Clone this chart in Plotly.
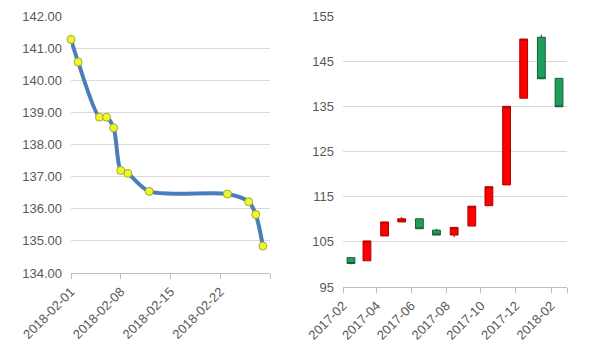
import plotly.graph_objects as go

# Left chart: daily series
line_dates = ["2018-02-01", "2018-02-02", "2018-02-05", "2018-02-06", "2018-02-07",
              "2018-02-08", "2018-02-09", "2018-02-12", "2018-02-23", "2018-02-26",
              "2018-02-27", "2018-02-28"]
line_values = [141.27, 140.57, 138.85, 138.85, 138.52, 137.19, 137.10, 136.54,
               136.46, 136.22, 135.82, 134.84]

# Right chart: monthly candles
candle_dates = ["2017-02-15", "2017-03-15", "2017-04-15", "2017-05-15", "2017-06-15",
                "2017-07-15", "2017-08-15", "2017-09-15", "2017-10-15", "2017-11-15",
                "2017-12-15", "2018-01-15", "2018-02-15"]
c_open = [101.5, 100.8, 106.3, 109.4, 110.1, 107.6, 106.5, 108.5, 113.0, 117.6, 136.8, 150.3, 141.2]
c_close = [100.2, 105.2, 109.4, 110.1, 107.9, 106.5, 108.2, 112.9, 117.2, 135.0, 149.9, 141.1, 134.9]
c_high = [101.5, 105.2, 109.4, 110.5, 110.1, 107.9, 108.2, 112.9, 117.2, 135.0, 149.9, 150.9, 141.2]
c_low = [100.0, 100.8, 106.3, 109.4, 107.9, 106.5, 106.0, 108.5, 113.0, 117.6, 136.8, 141.1, 134.9]

left_ticks = ["2018-02-01", "2018-02-08", "2018-02-15", "2018-02-22", "2018-03-01"]
left_ticktext = ["2018-02-01", "2018-02-08", "2018-02-15", "2018-02-22", ""]
right_ticks = ["2017-02-01", "2017-04-01", "2017-06-01", "2017-08-01", "2017-10-01",
               "2017-12-01", "2018-02-01", "2018-03-01"]
right_ticktext = ["2017-02", "2017-04", "2017-06", "2017-08", "2017-10", "2017-12", "2018-02", ""]

font_color = "#595959"
grid_color = "#D9D9D9"
axis_color = "#BFBFBF"

fig = go.Figure()
fig.add_trace(go.Scatter(
    x=line_dates, y=line_values, mode="lines+markers", cliponaxis=False,
    line=dict(color="#4A7EBB", width=4, shape="spline", smoothing=0.8),
    marker=dict(size=8, color="#EEF533", line=dict(color="#A9A923", width=1)),
    xaxis="x", yaxis="y", showlegend=False, hoverinfo="x+y"))

fig.add_trace(go.Candlestick(
    x=candle_dates, open=c_open, high=c_high, low=c_low, close=c_close,
    increasing=dict(fillcolor="#FF0000", line=dict(color="#B00000", width=1)),
    decreasing=dict(fillcolor="#1E9E5A", line=dict(color="#14603A", width=1)),
    whiskerwidth=0, xaxis="x2", yaxis="y2", showlegend=False))

tickfont = dict(family="Liberation Sans, Arial, sans-serif", size=13, color=font_color)

fig.update_layout(
    width=600, height=353, margin=dict(l=0, r=0, t=0, b=0),
    paper_bgcolor="white", plot_bgcolor="white",
    xaxis=dict(domain=[71/600, 270/600], anchor="y", type="date", automargin=False,
               range=["2018-02-01", "2018-03-01"], tickvals=left_ticks, ticktext=left_ticktext,
               tickangle=-45, tickfont=tickfont, showgrid=False, showline=True,
               linecolor=axis_color, ticks="outside", ticklen=5, tickcolor=axis_color,
               zeroline=False),
    yaxis=dict(domain=[1 - 273/353, 1 - 16/353], anchor="x", range=[134, 142], dtick=1,
               tick0=134, tickformat=".2f", tickfont=tickfont, showgrid=True, automargin=False,
               gridcolor=grid_color, showline=False, zeroline=False, ticklabelstandoff=8),
    xaxis2=dict(domain=[343/600, 567/600], anchor="y2", type="date", automargin=False,
                range=["2017-02-01", "2018-03-01"], tickvals=right_ticks, ticktext=right_ticktext,
                tickangle=-45, tickfont=tickfont, showgrid=False, showline=True,
                linecolor=axis_color, ticks="outside", ticklen=5, tickcolor=axis_color,
                zeroline=False, rangeslider=dict(visible=False)),
    yaxis2=dict(domain=[1 - 287/353, 1 - 16/353], anchor="x2", range=[95, 155], dtick=10,
                tick0=95, tickfont=tickfont, showgrid=True, gridcolor=grid_color, automargin=False,
                showline=False, zeroline=False, ticklabelstandoff=8),
)

fig.write_html("out.html")
